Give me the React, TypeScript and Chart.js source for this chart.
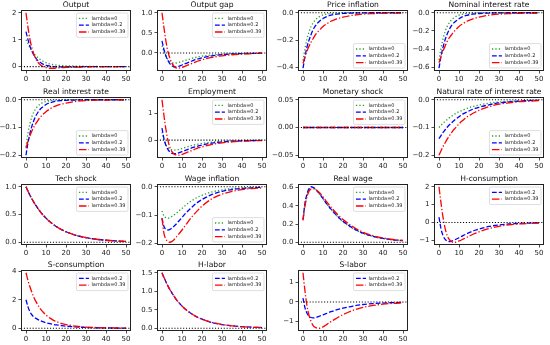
import React, { useEffect, useRef } from "react";
import { Chart, registerables } from "chart.js";

Chart.register(...registerables);

// ---------- data ----------
const periods = [0, 1, 2, 3, 4, 5, 6, 7, 8, 10, 12, 14, 16, 18, 20, 25, 30, 35, 40, 45, 50];
const xTicks = [0, 10, 20, 30, 40, 50];
const seriesLabels = ["lambda=0", "lambda=0.2", "lambda=0.39"];

const outputL0 = [1.0, 0.85, 0.7, 0.58, 0.48, 0.4, 0.33, 0.27, 0.22, 0.15, 0.1, 0.07, 0.05, 0.04, 0.03, 0.02, 0.01, 0.005, 0, 0, 0];
const outputL02 = [1.3, 1.0, 0.75, 0.56, 0.42, 0.31, 0.22, 0.16, 0.11, 0.05, 0.02, 0.0, -0.01, -0.01, -0.01, -0.01, 0, 0, 0, 0, 0];
const outputL039 = [2.0, 1.45, 1.0, 0.68, 0.45, 0.28, 0.16, 0.08, 0.02, -0.04, -0.06, -0.06, -0.05, -0.04, -0.03, -0.02, -0.01, 0, 0, 0, 0];

const gapL0 = [0.18, 0.03, -0.08, -0.16, -0.21, -0.24, -0.25, -0.25, -0.24, -0.21, -0.18, -0.15, -0.12, -0.1, -0.08, -0.05, -0.03, -0.015, -0.01, -0.005, 0];
const gapL02 = [0.3, 0.08, -0.08, -0.19, -0.27, -0.32, -0.35, -0.35, -0.34, -0.3, -0.26, -0.22, -0.18, -0.15, -0.12, -0.07, -0.04, -0.025, -0.015, -0.01, -0.005];
const gapL039 = [1.0, 0.62, 0.28, 0.03, -0.14, -0.26, -0.33, -0.37, -0.38, -0.36, -0.32, -0.28, -0.24, -0.2, -0.17, -0.11, -0.07, -0.045, -0.03, -0.015, -0.01];

const inflL0 = [-0.35, -0.26, -0.19, -0.14, -0.1, -0.075, -0.055, -0.04, -0.03, -0.016, -0.009, -0.005, -0.003, -0.002, -0.001, 0, 0, 0, 0, 0, 0];
const inflL02 = [-0.405, -0.32, -0.25, -0.2, -0.16, -0.125, -0.1, -0.08, -0.065, -0.042, -0.028, -0.018, -0.012, -0.008, -0.005, -0.002, -0.001, 0, 0, 0, 0];
const inflL039 = [-0.37, -0.32, -0.28, -0.245, -0.215, -0.19, -0.165, -0.145, -0.13, -0.1, -0.08, -0.062, -0.05, -0.04, -0.032, -0.018, -0.01, -0.006, -0.003, -0.002, -0.001];

const nomL0 = [-0.52, -0.39, -0.29, -0.21, -0.155, -0.115, -0.085, -0.063, -0.047, -0.026, -0.014, -0.008, -0.004, -0.002, -0.001, 0, 0, 0, 0, 0, 0];
const nomL02 = [-0.61, -0.48, -0.38, -0.3, -0.24, -0.19, -0.15, -0.12, -0.1, -0.065, -0.042, -0.028, -0.018, -0.012, -0.008, -0.003, -0.001, 0, 0, 0, 0];
const nomL039 = [-0.55, -0.48, -0.42, -0.37, -0.32, -0.28, -0.25, -0.22, -0.195, -0.15, -0.12, -0.093, -0.075, -0.06, -0.048, -0.027, -0.015, -0.009, -0.005, -0.003, -0.002];

const realL0 = [-0.17, -0.12, -0.085, -0.06, -0.043, -0.031, -0.022, -0.016, -0.011, -0.006, -0.003, -0.0015, -0.001, 0, 0, 0, 0, 0, 0, 0, 0];
const realL02 = [-0.2, -0.155, -0.12, -0.094, -0.073, -0.057, -0.045, -0.035, -0.028, -0.017, -0.011, -0.007, -0.004, -0.003, -0.002, -0.001, 0, 0, 0, 0, 0];
const realL039 = [-0.175, -0.15, -0.13, -0.112, -0.097, -0.085, -0.074, -0.064, -0.056, -0.043, -0.033, -0.025, -0.019, -0.015, -0.012, -0.006, -0.003, -0.0015, -0.001, 0, 0];

const emplL0 = [0.3, 0.0, -0.18, -0.28, -0.34, -0.36, -0.37, -0.36, -0.35, -0.31, -0.26, -0.22, -0.18, -0.15, -0.12, -0.07, -0.04, -0.025, -0.015, -0.008, -0.005];
const emplL02 = [0.45, 0.05, -0.2, -0.35, -0.44, -0.49, -0.5, -0.5, -0.48, -0.43, -0.37, -0.31, -0.26, -0.22, -0.18, -0.11, -0.07, -0.04, -0.025, -0.015, -0.01];
const emplL039 = [1.5, 0.9, 0.38, -0.02, -0.28, -0.43, -0.51, -0.55, -0.56, -0.53, -0.47, -0.41, -0.35, -0.29, -0.25, -0.16, -0.1, -0.065, -0.04, -0.025, -0.015];

const monL0 = [0, 0, 0, 0, 0, 0, 0, 0, 0, 0, 0, 0, 0, 0, 0, 0, 0, 0, 0, 0, 0];
const monL02 = [0, 0, 0, 0, 0, 0, 0, 0, 0, 0, 0, 0, 0, 0, 0, 0, 0, 0, 0, 0, 0];
const monL039 = [0, 0, 0, 0, 0, 0, 0, 0, 0, 0, 0, 0, 0, 0, 0, 0, 0, 0, 0, 0, 0];

const natL0 = [-0.1, -0.092, -0.085, -0.078, -0.072, -0.066, -0.061, -0.056, -0.051, -0.043, -0.037, -0.031, -0.026, -0.022, -0.019, -0.012, -0.008, -0.005, -0.004, -0.002, -0.002];
const natL02 = [-0.14, -0.129, -0.118, -0.109, -0.1, -0.092, -0.085, -0.078, -0.072, -0.061, -0.051, -0.044, -0.037, -0.031, -0.027, -0.018, -0.011, -0.008, -0.005, -0.003, -0.002];
const natL039 = [-0.2, -0.184, -0.169, -0.156, -0.143, -0.132, -0.121, -0.111, -0.103, -0.087, -0.074, -0.062, -0.053, -0.045, -0.038, -0.025, -0.016, -0.011, -0.007, -0.005, -0.003];

const techL0 = [1.0, 0.92, 0.846, 0.779, 0.716, 0.659, 0.606, 0.558, 0.513, 0.434, 0.368, 0.311, 0.263, 0.223, 0.189, 0.124, 0.082, 0.054, 0.036, 0.023, 0.015];
const techL02 = [1.0, 0.92, 0.846, 0.779, 0.716, 0.659, 0.606, 0.558, 0.513, 0.434, 0.368, 0.311, 0.263, 0.223, 0.189, 0.124, 0.082, 0.054, 0.036, 0.023, 0.015];
const techL039 = [1.0, 0.92, 0.846, 0.779, 0.716, 0.659, 0.606, 0.558, 0.513, 0.434, 0.368, 0.311, 0.263, 0.223, 0.189, 0.124, 0.082, 0.054, 0.036, 0.023, 0.015];

const wageL0 = [-0.085, -0.103, -0.109, -0.11, -0.108, -0.104, -0.099, -0.094, -0.088, -0.076, -0.064, -0.053, -0.044, -0.036, -0.03, -0.018, -0.011, -0.006, -0.004, -0.002, -0.001];
const wageL02 = [-0.11, -0.14, -0.15, -0.152, -0.15, -0.145, -0.139, -0.132, -0.124, -0.108, -0.092, -0.078, -0.065, -0.054, -0.045, -0.027, -0.016, -0.01, -0.006, -0.004, -0.002];
const wageL039 = [-0.11, -0.165, -0.185, -0.193, -0.195, -0.192, -0.186, -0.178, -0.17, -0.152, -0.133, -0.114, -0.097, -0.082, -0.068, -0.042, -0.026, -0.016, -0.01, -0.006, -0.004];

const rwageL0 = [0.25, 0.42, 0.52, 0.575, 0.6, 0.6, 0.585, 0.56, 0.535, 0.475, 0.415, 0.36, 0.31, 0.265, 0.225, 0.15, 0.097, 0.063, 0.04, 0.026, 0.016];
const rwageL02 = [0.25, 0.43, 0.53, 0.59, 0.61, 0.605, 0.59, 0.565, 0.54, 0.48, 0.42, 0.365, 0.315, 0.27, 0.23, 0.155, 0.1, 0.065, 0.042, 0.027, 0.017];
const rwageL039 = [0.24, 0.4, 0.5, 0.56, 0.585, 0.59, 0.585, 0.57, 0.55, 0.5, 0.44, 0.385, 0.335, 0.29, 0.25, 0.17, 0.11, 0.072, 0.047, 0.03, 0.02];

const hconsL02 = [0.3, -0.35, -0.72, -0.93, -1.03, -1.06, -1.05, -1.01, -0.96, -0.85, -0.73, -0.62, -0.52, -0.43, -0.36, -0.22, -0.13, -0.08, -0.05, -0.03, -0.02];
const hconsL039 = [2.0, 1.1, 0.3, -0.3, -0.7, -0.93, -1.05, -1.1, -1.1, -1.03, -0.93, -0.82, -0.71, -0.61, -0.52, -0.34, -0.21, -0.13, -0.08, -0.05, -0.03];

const sconsL02 = [2.0, 1.5, 1.15, 0.93, 0.79, 0.69, 0.61, 0.54, 0.48, 0.39, 0.32, 0.26, 0.22, 0.18, 0.15, 0.09, 0.055, 0.035, 0.02, 0.013, 0.008];
const sconsL039 = [3.9, 3.35, 2.9, 2.5, 2.15, 1.87, 1.62, 1.4, 1.22, 0.93, 0.71, 0.54, 0.42, 0.33, 0.26, 0.14, 0.08, 0.05, 0.03, 0.02, 0.01];

const hlabL02 = [1.5, 1.37, 1.25, 1.14, 1.04, 0.95, 0.87, 0.79, 0.72, 0.6, 0.5, 0.42, 0.35, 0.29, 0.245, 0.155, 0.1, 0.065, 0.042, 0.027, 0.018];
const hlabL039 = [1.5, 1.37, 1.25, 1.14, 1.04, 0.95, 0.87, 0.79, 0.72, 0.6, 0.5, 0.42, 0.35, 0.29, 0.245, 0.155, 0.1, 0.065, 0.042, 0.027, 0.018];

const slabL02 = [0.2, -0.3, -0.58, -0.73, -0.8, -0.82, -0.81, -0.78, -0.74, -0.66, -0.58, -0.5, -0.43, -0.37, -0.32, -0.21, -0.13, -0.085, -0.055, -0.035, -0.02];
const slabL039 = [1.5, 0.55, -0.2, -0.68, -1.0, -1.2, -1.3, -1.34, -1.35, -1.28, -1.15, -1.01, -0.88, -0.76, -0.65, -0.43, -0.28, -0.18, -0.11, -0.07, -0.045];

type Panel = {
  title: string;
  series: (number[] | null)[];
  yTicks: number[];
  dec: number;
  legend: "upper" | "lower";
  yRange?: [number, number];
};

const panels: Panel[] = [
  { title: "Output", series: [outputL0, outputL02, outputL039], yTicks: [0, 1, 2], dec: 0, legend: "upper" },
  { title: "Output gap", series: [gapL0, gapL02, gapL039], yTicks: [0, 0.5, 1], dec: 1, legend: "upper" },
  { title: "Price inflation", series: [inflL0, inflL02, inflL039], yTicks: [-0.4, -0.2, 0], dec: 1, legend: "lower" },
  { title: "Nominal interest rate", series: [nomL0, nomL02, nomL039], yTicks: [-0.6, -0.4, -0.2, 0], dec: 1, legend: "lower" },
  { title: "Real interest rate", series: [realL0, realL02, realL039], yTicks: [-0.2, -0.1, 0], dec: 1, legend: "lower" },
  { title: "Employment", series: [emplL0, emplL02, emplL039], yTicks: [0, 1], dec: 0, legend: "upper" },
  { title: "Monetary shock", series: [monL0, monL02, monL039], yTicks: [-0.05, 0, 0.05], dec: 2, legend: "upper", yRange: [-0.055, 0.055] },
  { title: "Natural rate of interest rate", series: [natL0, natL02, natL039], yTicks: [-0.2, -0.1, 0], dec: 1, legend: "lower" },
  { title: "Tech shock", series: [techL0, techL02, techL039], yTicks: [0, 0.5, 1], dec: 1, legend: "upper" },
  { title: "Wage inflation", series: [wageL0, wageL02, wageL039], yTicks: [-0.2, -0.1, 0], dec: 1, legend: "lower" },
  { title: "Real wage", series: [rwageL0, rwageL02, rwageL039], yTicks: [0, 0.2, 0.4, 0.6], dec: 1, legend: "upper" },
  { title: "H-consumption", series: [null, hconsL02, hconsL039], yTicks: [-1, 0, 1, 2], dec: 0, legend: "upper" },
  { title: "S-consumption", series: [null, sconsL02, sconsL039], yTicks: [0, 2, 4], dec: 0, legend: "upper" },
  { title: "H-labor", series: [null, hlabL02, hlabL039], yTicks: [0, 0.5, 1, 1.5], dec: 1, legend: "upper" },
  { title: "S-labor", series: [null, slabL02, slabL039], yTicks: [-1, 0, 1], dec: 0, legend: "upper" },
];

// ---------- styling ----------
const FONT = '"DejaVu Sans", sans-serif';
const COLORS = ["#2ca02c", "#0000ff", "#ff0000"];
const LW = 1.3;
const DASHES = [[1.3, 2.1], [4.8, 2.0], [7.5, 2.0, 1.3, 2.0]];
const TICK_FS = 7;
const TITLE_FS = 7.6;
const LEG_FS = 5;

const colLeft = [21, 157, 298, 434];
const rowTop = [10, 97, 184, 270];
const PLOT_W = 110;
const PLOT_H = 61;
const TOP_PAD = 16;
const RIGHT_PAD = 6;
const X_AXIS_H = 14;

const fmt = (v: number, d: number) => {
  const s = Math.abs(v).toFixed(d);
  return (v < -1e-9 ? "\u2212" : "") + s;
};

function PanelChart({ p, left, top }: { p: Panel; left: number; top: number }) {
  const ref = useRef<HTMLCanvasElement>(null);
  const yW = Math.min(left, 36);
  const cw = yW + PLOT_W + RIGHT_PAD;
  const ch = TOP_PAD + PLOT_H + X_AXIS_H;

  useEffect(() => {
    if (!ref.current) return;
    const active = p.series
      .map((s, i) => ({ s, i }))
      .filter((e) => e.s !== null) as { s: number[]; i: number }[];

    let yMin: number, yMax: number;
    if (p.yRange) {
      [yMin, yMax] = p.yRange;
    } else {
      let lo = 0, hi = 0;
      active.forEach((e) => e.s.forEach((v) => { lo = Math.min(lo, v); hi = Math.max(hi, v); }));
      const r = hi - lo;
      yMin = lo - 0.05 * r;
      yMax = hi + 0.05 * r;
    }

    const datasets: any[] = active.map((e) => ({
      label: seriesLabels[e.i],
      data: periods.map((x, k) => ({ x, y: e.s[k] })),
      borderColor: COLORS[e.i],
      borderWidth: LW,
      borderDash: DASHES[e.i],
      pointRadius: 0,
      fill: false,
      cubicInterpolationMode: "monotone",
      order: 3 - e.i,
    }));
    datasets.push({
      label: "zero",
      data: [{ x: -2.5, y: 0 }, { x: 52.5, y: 0 }],
      borderColor: "#000",
      borderWidth: 1.1,
      borderDash: [1.1, 1.8],
      pointRadius: 0,
      fill: false,
      order: 0,
    });

    const deco = {
      id: "deco",
      afterDraw(chart: any) {
        const { ctx, chartArea: a } = chart;
        ctx.save();
        // frame
        ctx.strokeStyle = "#222";
        ctx.lineWidth = 1;
        ctx.setLineDash([]);
        ctx.strokeRect(a.left + 0.5, a.top + 0.5, a.right - a.left - 1, a.bottom - a.top - 1);
        // title
        ctx.fillStyle = "#111";
        ctx.font = `${TITLE_FS}px ${FONT}`;
        ctx.textAlign = "center";
        ctx.textBaseline = "alphabetic";
        ctx.fillText(p.title, (a.left + a.right) / 2, a.top - 3.5);
        // legend
        ctx.font = `${LEG_FS}px ${FONT}`;
        const entries = active.map((e) => e.i);
        const rowH = 6.8;
        const pad = 2.5;
        const sampleW = 10;
        let tw = 0;
        entries.forEach((i) => { tw = Math.max(tw, ctx.measureText(seriesLabels[i]).width); });
        const bw = pad + sampleW + 2.5 + tw + pad;
        const bh = pad * 2 + rowH * entries.length - 1;
        const bx = a.right - 3 - bw;
        const by = p.legend === "upper" ? a.top + 3 : a.bottom - 3 - bh;
        ctx.beginPath();
        if (ctx.roundRect) ctx.roundRect(bx, by, bw, bh, 1.5);
        else ctx.rect(bx, by, bw, bh);
        ctx.fillStyle = "rgba(255,255,255,0.8)";
        ctx.fill();
        ctx.strokeStyle = "#d0d0d0";
        ctx.lineWidth = 0.7;
        ctx.stroke();
        entries.forEach((i, k) => {
          const yy = by + pad + rowH * k + rowH / 2 - 0.5;
          ctx.beginPath();
          ctx.setLineDash(DASHES[i]);
          ctx.strokeStyle = COLORS[i];
          ctx.lineWidth = LW;
          ctx.moveTo(bx + pad, yy);
          ctx.lineTo(bx + pad + sampleW, yy);
          ctx.stroke();
          ctx.setLineDash([]);
          ctx.fillStyle = "#222";
          ctx.textAlign = "left";
          ctx.textBaseline = "middle";
          ctx.fillText(seriesLabels[i], bx + pad + sampleW + 2.5, yy);
        });
        ctx.restore();
      },
    };

    const tickFont = { family: FONT, size: TICK_FS };
    const chart = new Chart(ref.current, {
      type: "line",
      data: { datasets },
      options: {
        animation: false,
        responsive: false,
        maintainAspectRatio: false,
        layout: { padding: { left: 0, top: TOP_PAD, right: RIGHT_PAD, bottom: 0 } },
        plugins: { legend: { display: false }, title: { display: false }, tooltip: { enabled: false } },
        scales: {
          x: {
            type: "linear",
            min: -2.5,
            max: 52.5,
            afterBuildTicks: (s: any) => { s.ticks = xTicks.map((v) => ({ value: v })); },
            afterFit: (s: any) => { s.height = X_AXIS_H; },
            ticks: { font: tickFont, color: "#222", padding: 1.5, maxRotation: 0, autoSkip: false, callback: (v: any) => String(v) },
            grid: { display: true, drawOnChartArea: false, drawTicks: true, tickLength: 2.5, color: "#222", lineWidth: 0.8 },
            border: { display: false },
          },
          y: {
            type: "linear",
            min: yMin,
            max: yMax,
            afterBuildTicks: (s: any) => { s.ticks = p.yTicks.map((v) => ({ value: v })); },
            afterFit: (s: any) => { s.width = yW; },
            ticks: { font: tickFont, color: "#222", padding: 2, autoSkip: false, callback: (v: any) => fmt(Number(v), p.dec) },
            grid: { display: true, drawOnChartArea: false, drawTicks: true, tickLength: 2.5, color: "#222", lineWidth: 0.8 },
            border: { display: false },
          },
        },
      },
      plugins: [deco],
    } as any);
    return () => chart.destroy();
  }, []);

  return (
    <canvas
      ref={ref}
      width={cw}
      height={ch}
      style={{ position: "absolute", left: left - yW, top: top - TOP_PAD, width: cw, height: ch, display: "block" }}
    />
  );
}

export default function App() {
  return (
    <div style={{ position: "absolute", left: 0, top: 0, width: 550, height: 345, background: "#fff", overflow: "hidden" }}>
      {panels.map((p, i) => (
        <PanelChart key={i} p={p} left={colLeft[i % 4]} top={rowTop[Math.floor(i / 4)]} />
      ))}
    </div>
  );
}
